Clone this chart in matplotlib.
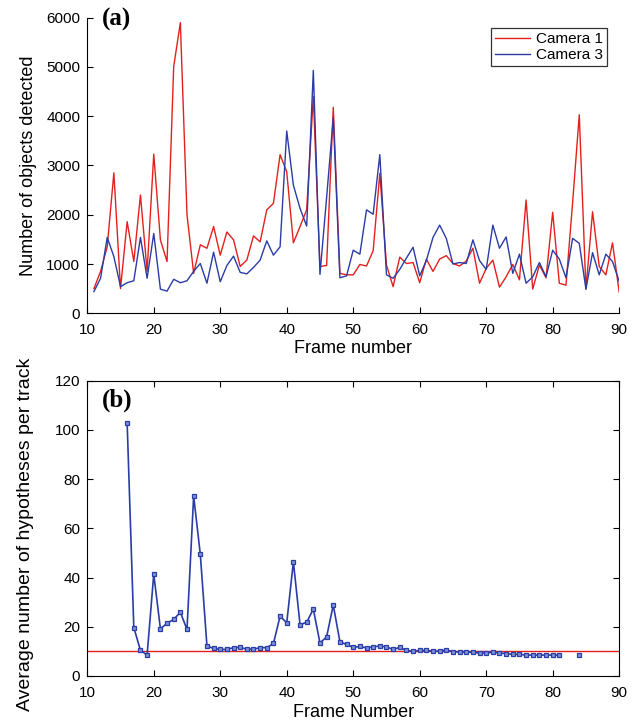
'''Objects detected per frame and hypotheses per track'''
import matplotlib
matplotlib.use('Agg')
import matplotlib.pyplot as plt
import numpy as np

plt.rcParams['font.family'] = ['Liberation Sans', 'DejaVu Sans']

RED = '#e3201c'
BLUE = '#2a3ca6'

frames_a = list(range(11, 91))
camera1 = [500, 850, 1350, 2850, 500, 1860, 1050, 2400, 850, 3230,
           1490, 1050, 5010, 5900, 2000, 810, 1390, 1320, 1760, 1180,
           1650, 1490, 950, 1080, 1570, 1450, 2100, 2230, 3220, 2870,
           1430, 1760, 2100, 4400, 950, 970, 4180, 810, 780, 780,
           990, 960, 1270, 2840, 980, 540, 1140, 1010, 1030, 620,
           1100, 850, 1100, 1170, 1010, 960, 1060, 1320, 610, 910,
           1080, 530, 740, 990, 680, 2300, 490, 980, 720, 2050,
           610, 570, 2250, 4030, 490, 2060, 950, 780, 1430, 430]
camera3 = [440, 710, 1540, 1150, 540, 620, 660, 1540, 710, 1620,
           490, 450, 690, 620, 660, 850, 1010, 610, 1240, 640,
           970, 1160, 830, 800, 930, 1080, 1470, 1180, 1350, 3700,
           2600, 2130, 1770, 4930, 790, 2350, 3970, 720, 760, 1280,
           1200, 2100, 2010, 3220, 780, 710, 890, 1120, 1340, 760,
           1070, 1540, 1790, 1520, 1000, 1030, 1010, 1490, 1070, 890,
           1790, 1320, 1550, 810, 1200, 610, 740, 1030, 740, 1280,
           1100, 720, 1520, 1420, 490, 1230, 780, 1200, 1050, 650]

frames_b = list(range(16, 85))
hypotheses = [102.7, 19.7, 10.4, 8.5, 41.4, 19.2, 21.4, 23.0, 25.9, 18.9,
              73.1, 49.5, 12.2, 11.2, 10.8, 10.8, 11.5, 11.6, 10.9, 10.9,
              11.5, 11.5, 13.2, 24.3, 21.6, 46.4, 20.9, 21.8, 27.2, 13.4,
              15.9, 28.8, 13.9, 12.8, 11.6, 12.0, 11.4, 11.8, 12.2, 11.8,
              10.8, 11.6, 10.4, 10.0, 10.4, 10.4, 10.1, 10.1, 10.5, 9.9,
              9.7, 9.7, 9.6, 9.3, 9.3, 9.7, 9.3, 9.1, 8.8, 8.8,
              8.5, 8.5, 8.5, 8.5, 8.5, 8.5, np.nan, np.nan, 8.5]
threshold = 10

fig = plt.figure(figsize=(6.37, 7.26), dpi=100)

# (a) objects detected
ax1 = fig.add_axes([0.137, 0.5685, 0.835, 0.4071])
ax1.plot(frames_a, camera1, color=RED, lw=1.0, label='Camera 1')
ax1.plot(frames_a, camera3, color=BLUE, lw=1.0, label='Camera 3')
ax1.set_xlim(10, 90)
ax1.set_ylim(0, 6000)
ax1.set_xticks(range(10, 91, 10))
ax1.set_yticks(range(0, 6001, 1000))
ax1.spines['top'].set_visible(False)
ax1.spines['right'].set_visible(False)
ax1.tick_params(direction='in', labelsize=11, length=4)
ax1.tick_params(axis='x', pad=7)
ax1.tick_params(axis='y', pad=5)
ax1.set_xlabel('Frame number', fontsize=13, labelpad=2)
ax1.set_ylabel('Number of objects detected', fontsize=13, labelpad=7)
ax1.text(0.027, 0.995, '(a)', transform=ax1.transAxes, fontsize=18,
         fontweight='bold', family='Liberation Serif', va='center', ha='left')
leg = ax1.legend(loc='upper right', bbox_to_anchor=(0.977, 0.965),
                 borderaxespad=0, fancybox=False, edgecolor='black',
                 fontsize=11, handlelength=2.3, borderpad=0.25,
                 labelspacing=0.15, handletextpad=0.4)
leg.get_frame().set_linewidth(0.9)

# (b) hypotheses per track
ax2 = fig.add_axes([0.137, 0.0689, 0.835, 0.4067])
ax2.axhline(threshold, color=RED, lw=1.0)
ax2.plot(frames_b, hypotheses, color=BLUE, lw=1.2, marker='s',
         markersize=3.5, markerfacecolor='#7f93d8', markeredgecolor=BLUE,
         markeredgewidth=0.9)
ax2.set_xlim(10, 90)
ax2.set_ylim(0, 120)
ax2.set_xticks(range(10, 91, 10))
ax2.set_yticks(range(0, 121, 20))
ax2.tick_params(direction='in', labelsize=11, length=4, top=True, right=True)
ax2.tick_params(axis='x', pad=7)
ax2.tick_params(axis='y', pad=5)
ax2.set_xlabel('Frame Number', fontsize=13, labelpad=3)
ax2.set_ylabel('Average number of hypotheses per track', fontsize=14,
               labelpad=6)
ax2.yaxis.set_label_coords(-0.1, 0.48)
ax2.text(0.027, 0.935, '(b)', transform=ax2.transAxes, fontsize=18,
         fontweight='bold', family='Liberation Serif', va='center', ha='left')

fig.savefig('out.png', dpi=100)
